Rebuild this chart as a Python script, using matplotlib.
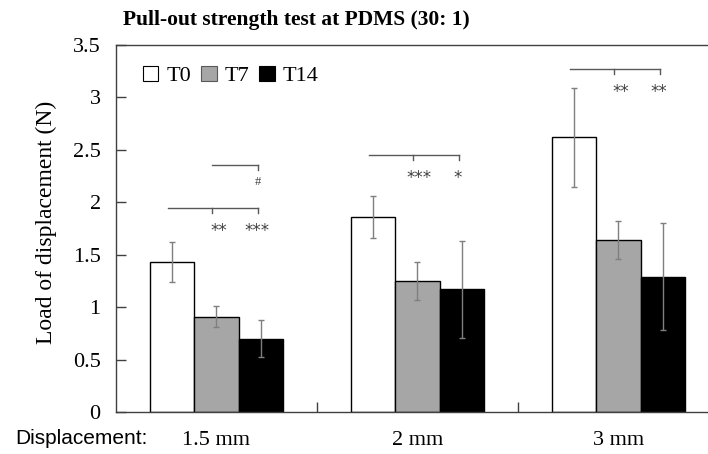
import numpy as np
import matplotlib
matplotlib.use('Agg')
import matplotlib.pyplot as plt
from matplotlib.patches import Patch

plt.rcParams['font.family'] = ['Liberation Serif', 'DejaVu Serif']

# data
cats = ['1.5 mm', '2 mm', '3 mm']
t0 = [1.43, 1.86, 2.62]
t0_err = [0.19, 0.20, 0.47]
t7 = [0.91, 1.25, 1.64]
t7_err = [0.10, 0.18, 0.18]
t14 = [0.70, 1.17, 1.29]
t14_err = [0.18, 0.46, 0.51]

# significance marks
bracket_y = [1.95, 2.45, 3.27]
stars = [['**', '***'], ['***', '*'], ['**', '**']]
stars_y = [1.73, 2.23, 3.05]
hash_y = 2.36

fig = plt.figure(figsize=(7.08, 4.54), dpi=100)
ax = fig.add_axes([116/708, 1-412/454, 603/708, 367/454])

x = np.arange(len(cats))
w = 0.222
ekw = dict(ecolor='#7f7f7f', elinewidth=1, capsize=2.5, capthick=1)
ax.bar(x - w, t0, w, yerr=t0_err, color='white', edgecolor='black', linewidth=1, error_kw=ekw, label='T0')
ax.bar(x, t7, w, yerr=t7_err, color='#a6a6a6', edgecolor='black', linewidth=1, error_kw=ekw, label='T7')
ax.bar(x + w, t14, w, yerr=t14_err, color='black', edgecolor='black', linewidth=1, error_kw=ekw, label='T14')

ax.set_xlim(-0.5, 2.5)
ax.set_ylim(0, 3.5)

# brackets + stars
lc = '#595959'
d = 0.05
for i in range(3):
    y = bracket_y[i]
    ax.plot([i - 0.24, i + 0.205], [y, y], color=lc, lw=1)
    ax.plot([i - 0.02, i - 0.02], [y, y - d], color=lc, lw=1)
    ax.plot([i + 0.205, i + 0.205], [y, y - d], color=lc, lw=1)
    ax.text(i + 0.01, stars_y[i], stars[i][0], ha='center', va='center',
            fontsize=12, color='#404040', family='DejaVu Sans')
    ax.text(i + 0.2, stars_y[i], stars[i][1], ha='center', va='center',
            fontsize=12, color='#404040', family='DejaVu Sans')
# '#' bracket T7 vs T14 at 1.5 mm
ax.plot([-0.02, 0.205], [hash_y, hash_y], color=lc, lw=1)
ax.plot([0.205, 0.205], [hash_y, hash_y - d], color=lc, lw=1)
ax.text(0.205, 2.195, '#', ha='center', va='center', fontsize=9, color='#404040')

# axes styling
ax.spines['right'].set_visible(False)
for s in ['left', 'bottom', 'top']:
    ax.spines[s].set_color('#404040')
    ax.spines[s].set_linewidth(1)
ax.set_yticks(np.arange(0, 3.51, 0.5))
ax.set_yticklabels(['0', '0.5', '1', '1.5', '2', '2.5', '3', '3.5'])
ax.tick_params(axis='y', direction='in', length=7, width=1, color='#404040', labelsize=16, pad=11)
ax.set_xticks([0.5, 1.5])
ax.set_xticklabels([])
ax.tick_params(axis='x', which='major', direction='in', length=7, width=1, color='#404040')
ax.set_xticks(x, minor=True)
ax.set_xticklabels(cats, minor=True)
ax.tick_params(axis='x', which='minor', length=0, labelsize=16, pad=14)

fig.text(46/708, 1-222/454, 'Load of displacement (N)', rotation=90, ha='center', va='center', fontsize=17)
fig.text(15/708, 1-438/454, 'Displacement:', ha='left', va='center', fontsize=15,
         family=['Liberation Sans Narrow', 'Liberation Sans'])
fig.text(123/708, 1-20/454, 'Pull-out strength test at PDMS (30: 1)', ha='left', va='center',
         fontsize=15.5, fontweight='bold')

handles = [Patch(facecolor='white', edgecolor='black', lw=0.8),
           Patch(facecolor='#a6a6a6', edgecolor='#595959', lw=0.8),
           Patch(facecolor='black', edgecolor='black', lw=0.8)]
ax.legend(handles, ['T0', 'T7', 'T14'], ncol=3, frameon=False, fontsize=16,
          loc='upper left', bbox_to_anchor=(18/603, 1-12/367), borderaxespad=0,
          handlelength=0.7, handleheight=0.7, handletextpad=0.35, columnspacing=0.45)

plt.savefig('out.png', dpi=100)
